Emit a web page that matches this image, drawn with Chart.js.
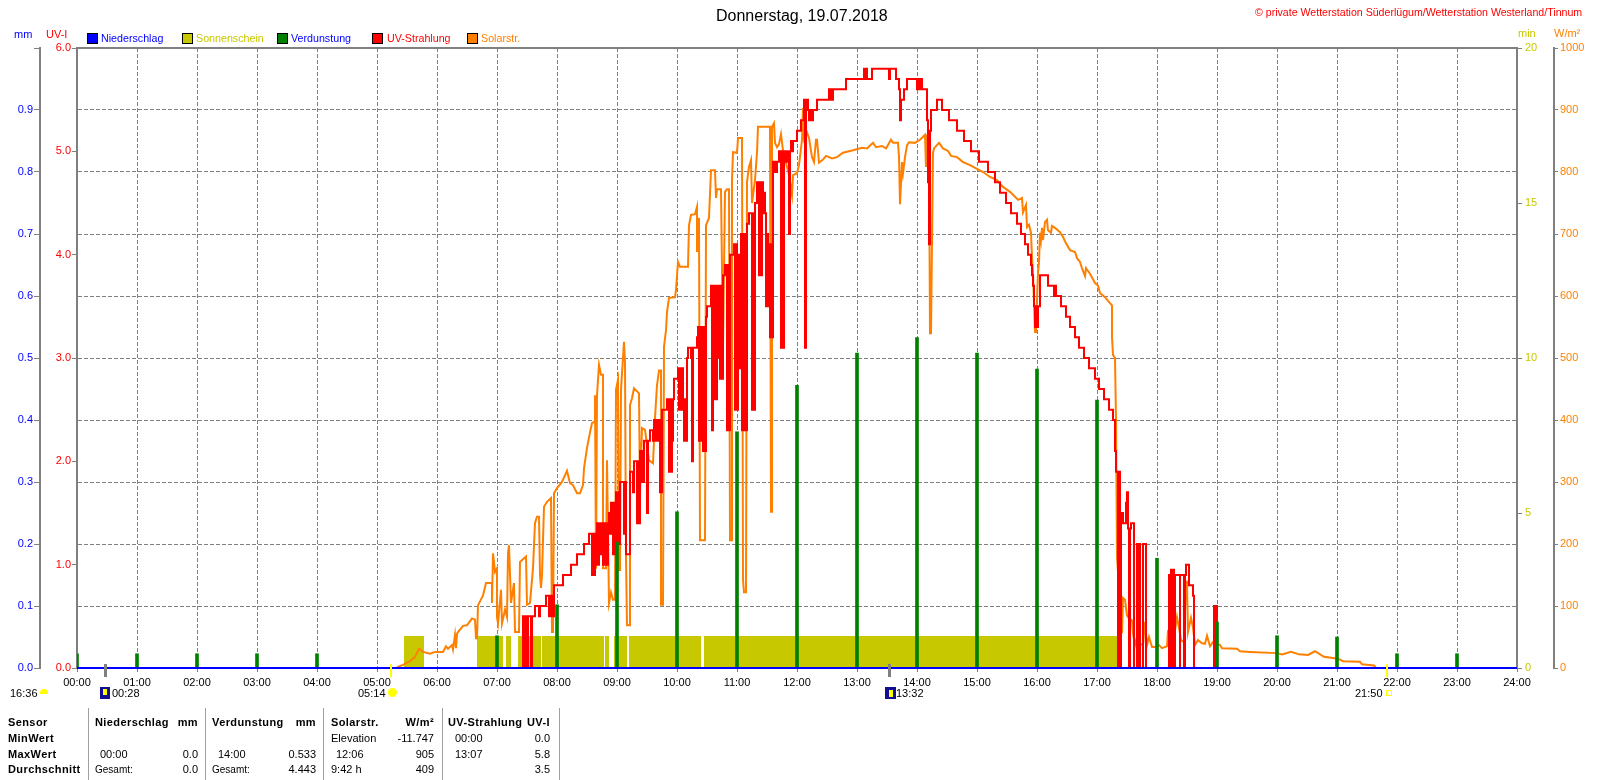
<!DOCTYPE html>
<html><head><meta charset="utf-8"><title>Wetterstation</title>
<script src="https://cdn.jsdelivr.net/npm/chart.js@4"></script>
<style>
html,body{margin:0;padding:0;background:#fff}
#w{position:relative;width:1600px;height:780px;overflow:hidden;font-family:"Liberation Sans",Arial,sans-serif;font-size:11px;color:#000}
canvas{position:absolute;left:0;top:0}
.t{position:absolute;white-space:nowrap;line-height:13px}
.b{position:absolute}
</style></head><body><div id="w"><canvas id="c" width="1600" height="780"></canvas></div>
<script>
const hourTicks=[0,60,120,180,240,300,360,420,480,540,600,660,720,780,840,900,960,1020,1080,1140,1200,1260,1320,1380,1440];
const rainT=[0,1440];
const rainMM=[0,0];
const verdT=[0,60,120,180,240,420,480,540,600,660,720,780,840,900,960,1020,1080,1140,1200,1260,1320,1380];
const verdMM=[0.023,0.023,0.023,0.023,0.023,0.052,0.102,0.203,0.252,0.381,0.456,0.508,0.533,0.508,0.482,0.432,0.177,0.074,0.052,0.05,0.023,0.023];
const sunStart=[327,400,429,441,465,528,537,552,627];
const sunEnd=[347,426,434,464,527,532,550,624,1040];
const sunMin=1.03;
const uvSeries=[[0,0],[446,.5],[447,0],[448,.5],[450,0],[451,.5],[454,0],[455,.5],[458,.6],[462,.5],[463,.6],[469,.7],[472,.5],[473,.7],[474,.5],[475,.7],[476,.5],[477,.8],[486,.9],[494,1.0],[500,1.1],[507,1.2],[512,1.3],[515,.9],[516,1.3],[517,.9],[518,1.3],[519,1.0],[520,1.4],[521,1.0],[522,1.4],[524,1.1],[525,1.4],[526,1.0],[527,1.4],[528,1.0],[529,1.4],[530,1.0],[531,1.4],[532,1.5],[533,1.3],[534,1.6],[535,1.3],[536,1.1],[537,1.6],[538,1.1],[539,1.7],[540,1.2],[541,1.7],[542,1.2],[543,1.8],[547,1.3],[548,1.8],[549,1.1],[553,1.9],[556,1.7],[557,2.0],[560,1.4],[561,2.0],[562,1.4],[563,2.1],[564,1.8],[565,2.1],[566,1.8],[567,2.2],[570,1.5],[571,2.2],[573,2.3],[576,2.2],[577,2.4],[578,2.2],[579,2.4],[580,2.2],[581,2.4],[583,1.7],[584,1.7],[585,2.5],[590,2.6],[592,1.9],[593,2.6],[594,1.9],[595,2.2],[596,2.6],[597,2.8],[601,2.9],[602,2.5],[603,2.9],[604,2.5],[605,2.9],[606,2.6],[607,2.2],[608,2.6],[609,2.2],[610,3.0],[611,3.1],[614,3.0],[615,2.0],[616,3.1],[620,3.2],[621,3.3],[622,2.2],[623,3.3],[624,2.2],[625,3.3],[626,2.1],[627,3.3],[628,2.1],[629,3.4],[630,3.5],[634,3.7],[635,2.3],[636,3.7],[637,2.6],[638,3.7],[639,2.6],[640,3.7],[641,3.0],[642,3.7],[643,2.8],[644,3.7],[645,2.8],[646,3.8],[648,3.9],[650,2.3],[651,3.9],[652,2.3],[653,4.0],[657,4.1],[658,2.5],[659,4.1],[660,2.5],[661,4.0],[662,2.9],[663,4.0],[664,4.2],[665,2.3],[666,4.2],[667,2.3],[668,4.2],[669,2.3],[670,4.3],[672,4.4],[675,2.5],[676,4.4],[677,2.5],[678,4.5],[680,4.7],[682,3.8],[683,4.7],[684,3.8],[685,4.7],[686,4.4],[687,4.6],[688,4.4],[689,3.5],[690,4.2],[691,3.5],[692,4.1],[693,3.2],[694,4.1],[695,3.2],[696,4.9],[697,4.8],[698,4.9],[699,4.8],[700,4.9],[702,5.0],[703,4.9],[704,3.1],[705,5.0],[706,3.1],[707,5.0],[708,4.9],[709,5.0],[710,4.9],[711,5.0],[712,4.2],[713,5.0],[714,5.1],[715,5.0],[716,5.1],[720,5.2],[724,5.3],[727,5.5],[728,3.1],[729,5.5],[731,5.4],[732,5.3],[734,5.4],[735,5.3],[736,5.4],[740,5.5],[752,5.6],[753,5.5],[754,5.6],[755,5.5],[756,5.6],[769,5.7],[787,5.8],[788,5.7],[789,5.8],[790,5.7],[795,5.8],[812,5.7],[813,5.8],[819,5.7],[822,5.6],[823,5.3],[824,5.5],[827,5.6],[830,5.7],[840,5.6],[841,5.7],[842,5.6],[843,5.7],[845,5.6],[850,5.3],[851,4.7],[852,4.1],[853,5.2],[854,5.4],[860,5.5],[865,5.4],[872,5.3],[880,5.2],[887,5.1],[894,5.0],[902,4.9],[911,4.8],[918,4.7],[923,4.6],[929,4.5],[934,4.4],[940,4.3],[944,4.2],[948,4.1],[951,4.0],[954,3.9],[955,3.8],[956,3.7],[957,3.5],[958,3.3],[959,3.5],[960,3.3],[961,3.5],[963,3.8],[971,3.7],[977,3.6],[978,3.7],[979,3.6],[984,3.5],[989,3.4],[993,3.3],[998,3.2],[1002,3.1],[1007,3.0],[1012,2.9],[1018,2.8],[1022,2.7],[1027,2.6],[1032,2.5],[1036,2.4],[1038,2.1],[1039,1.9],[1041,0],[1042,1.9],[1043,0],[1044,1.5],[1046,1.4],[1049,1.6],[1050,1.7],[1051,1.35],[1052,0],[1053,1.35],[1054,1.4],[1057,0],[1060,1.2],[1061,0],[1062,1.2],[1063,0],[1066,1.2],[1069,0],[1092,.9],[1093,0],[1094,.95],[1095,0],[1096,.95],[1097,0],[1098,.9],[1103,0],[1103,.9],[1107,0],[1108,.9],[1109,1.0],[1112,.8],[1116,.7],[1117,0],[1137,.6],[1138,0],[1139,.6],[1140,0],[1440,0]];
const solarSeries=[[0,0],[320,0],[321,2],[326,5],[333,11],[338,18],[342,31],[346,26],[353,23],[358,26],[366,26],[369,35],[371,31],[375,37],[376,30],[378,53],[379,32],[380,55],[381,58],[386,68],[390,69],[395,80],[398,78],[399,48],[400,48],[401,101],[406,117],[409,137],[415,137],[415,105],[416,185],[418,155],[420,161],[420,82],[421,72],[424,126],[425,72],[428,94],[430,82],[431,185],[432,198],[434,105],[437,137],[438,58],[442,58],[443,171],[449,180],[450,102],[453,105],[456,161],[458,234],[460,244],[462,244],[463,150],[464,129],[465,150],[467,260],[470,268],[474,274],[475,58],[476,58],[477,282],[480,290],[485,300],[490,318],[493,298],[496,295],[500,282],[503,282],[506,295],[507,322],[510,355],[513,380],[515,395],[518,398],[518,440],[519,160],[520,440],[522,489],[524,473],[526,473],[526,161],[529,161],[530,335],[532,105],[534,122],[536,110],[538,110],[539,449],[541,465],[542,158],[543,158],[544,449],[547,526],[548,492],[549,179],[550,69],[553,69],[553,424],[555,435],[557,451],[562,443],[563,279],[565,387],[568,384],[572,335],[576,330],[578,403],[580,456],[582,480],[584,480],[584,102],[586,102],[587,518],[589,545],[590,574],[592,597],[598,598],[599,610],[601,655],[603,647],[611,647],[612,714],[614,731],[618,732],[620,744],[620,671],[622,726],[623,206],[628,206],[629,714],[632,726],[634,803],[638,803],[639,758],[640,772],[644,772],[646,513],[648,768],[650,772],[652,772],[653,206],[655,206],[655,787],[656,832],[660,831],[661,855],[665,855],[666,142],[667,122],[669,122],[670,784],[672,808],[674,819],[675,750],[678,787],[680,831],[681,873],[693,873],[694,252],[695,252],[695,873],[697,879],[698,847],[700,840],[702,845],[704,861],[706,835],[709,815],[712,795],[715,763],[716,795],[720,798],[722,811],[725,852],[726,903],[727,856],[729,868],[732,855],[735,824],[737,816],[739,852],[740,852],[742,815],[746,820],[749,826],[755,822],[760,824],[766,831],[776,835],[785,839],[790,838],[796,847],[799,840],[805,842],[809,838],[814,852],[816,847],[821,847],[822,824],[823,748],[825,816],[826,798],[828,824],[830,843],[832,848],[838,847],[843,852],[848,860],[849,808],[850,856],[852,850],[853,540],[854,540],[856,830],[857,838],[862,847],[866,838],[871,834],[874,826],[880,824],[886,816],[893,811],[900,805],[906,800],[913,792],[920,787],[926,776],[933,768],[938,760],[941,755],[945,758],[946,735],[949,747],[950,711],[952,715],[954,702],[955,663],[956,637],[958,542],[959,542],[960,594],[961,637],[962,655],[963,702],[964,690],[965,710],[966,690],[968,719],[970,723],[971,706],[974,702],[975,713],[978,710],[983,703],[986,695],[989,685],[993,674],[998,671],[1000,661],[1003,655],[1005,645],[1008,632],[1009,645],[1013,636],[1018,621],[1021,617],[1023,605],[1028,598],[1031,592],[1035,585],[1035,534],[1036,505],[1038,500],[1039,400],[1040,179],[1045,56],[1046,113],[1048,110],[1050,85],[1052,80],[1055,77],[1056,56],[1058,37],[1060,50],[1063,39],[1066,37],[1068,74],[1070,37],[1072,50],[1075,34],[1080,34],[1082,37],[1085,32],[1090,35],[1091,61],[1092,35],[1098,61],[1100,82],[1102,65],[1104,45],[1107,42],[1109,139],[1110,139],[1111,58],[1114,81],[1116,65],[1118,37],[1121,45],[1125,40],[1128,39],[1130,52],[1133,35],[1136,42],[1143,37],[1145,32],[1160,31],[1163,27],[1173,26],[1200,24],[1205,22],[1214,26],[1222,22],[1231,21],[1238,27],[1247,18],[1261,15],[1266,11],[1283,10],[1285,6],[1297,4],[1299,0],[1440,0]];

const pts=(a,b)=>a.map((x,i)=>({x:x,y:b[i]}));
const pairPts=s=>s.map(p=>({x:p[0],y:p[1]}));
const sunPts=[];sunStart.forEach((s,i)=>{sunPts.push({x:s,y:0},{x:s,y:sunMin},{x:sunEnd[i],y:sunMin},{x:sunEnd[i],y:0});});
const GR='#808080';
const hhmm=v=>String(Math.floor(v/60)).padStart(2,'0')+':'+String(v%60).padStart(2,'0');
const tickFont={family:'"Liberation Sans",Arial,sans-serif',size:11};
const markerPlugin={id:'frame',
 beforeDatasetsDraw(ch){const a=ch.chartArea,c=ch.ctx;c.save();c.strokeStyle=GR;c.lineWidth=2;c.beginPath();c.moveTo(a.left,a.top);c.lineTo(a.right,a.top);c.stroke();c.restore();},
 afterDraw(ch){const c=ch.ctx,x=ch.scales.x,b=ch.chartArea.bottom;c.save();
  [[28,GR,3],[812,GR,3],[314,'#FFFF00',2],[1310,'#FFFF00',2]].forEach(m=>{c.fillStyle=m[1];c.fillRect(Math.round(x.getPixelForValue(m[0])-m[2]/2),b-4,m[2],13);});c.restore();}};
new Chart(document.getElementById('c'),{type:'line',plugins:[markerPlugin],
 data:{datasets:[
  {label:'Niederschlag',data:pts(rainT,rainMM),yAxisID:'mm',borderColor:'#0000FF',backgroundColor:'#0000FF',borderWidth:2,pointRadius:0,clip:false,order:1},
  {type:'bar',label:'Verdunstung',data:pts(verdT,verdMM),yAxisID:'mm',backgroundColor:'#008000',barThickness:3,order:2},
  {label:'UV-Strahlung',data:pairPts(uvSeries),yAxisID:'uv',borderColor:'#FF0000',backgroundColor:'#FF0000',borderWidth:2,pointRadius:0,stepped:true,borderJoinStyle:'miter',order:3},
  {label:'Solarstr.',data:pairPts(solarSeries),yAxisID:'w',borderColor:'#FF8000',backgroundColor:'#FF8000',borderWidth:2,pointRadius:0,tension:0,borderJoinStyle:'miter',order:4},
  {label:'Sonnenschein',data:sunPts,yAxisID:'min',borderWidth:0,borderColor:'#C8C800',backgroundColor:'#C8C800',pointRadius:0,fill:'origin',tension:0,order:5}
 ]},
 options:{responsive:false,animation:false,devicePixelRatio:1,events:[],
  layout:{padding:{top:48,left:0,right:0,bottom:0}},
  plugins:{legend:{display:false},title:{display:false},tooltip:{enabled:false}},
  scales:{
   x:{type:'linear',min:0,max:1440,offset:false,afterFit(s){s.height=112;},
      afterBuildTicks(s){s.ticks=hourTicks.map(v=>({value:v}));},
      grid:{offset:false,color:GR,lineWidth:1,tickLength:4,tickColor:GR,tickBorderDash:[]},
      border:{color:GR,width:2,dash:[4,2]},
      ticks:{color:'#000',font:tickFont,padding:4,maxRotation:0,autoSkip:false,callback:v=>hhmm(v)}},
   mm:{position:'left',weight:2,min:0,max:1,afterFit(s){s.width=40;},
      grid:{color:GR,lineWidth:1,tickLength:6,tickColor:GR,tickBorderDash:[]},
      border:{color:GR,width:2,dash:[4,2]},
      ticks:{stepSize:0.1,color:'#0000FF',font:tickFont,padding:1,callback:v=>v>0.95?'':v.toFixed(1)}},
   uv:{position:'left',weight:1,min:0,max:6,afterFit(s){s.width=37;},
      grid:{drawOnChartArea:false,tickLength:5,tickColor:GR},
      border:{color:GR,width:2},
      ticks:{stepSize:1,color:'#FF0000',font:tickFont,padding:1,callback:v=>v.toFixed(1)}},
   min:{position:'right',weight:1,min:0,max:20,afterFit(s){s.width=37;},
      grid:{drawOnChartArea:false,tickLength:5,tickColor:GR},
      border:{color:GR,width:2},
      ticks:{stepSize:5,color:'#C8C800',font:tickFont,padding:3,callback:v=>String(v)}},
   w:{position:'right',weight:2,min:0,max:1000,afterFit(s){s.width=46;},
      grid:{drawOnChartArea:false,tickLength:4,tickColor:GR},
      border:{color:GR,width:2},
      ticks:{stepSize:100,color:'#FF8000',font:tickFont,padding:2,callback:v=>String(v)}}
  }}});

const W=document.getElementById('w');
function T(s,x,y,o){o=o||{};const e=document.createElement('div');e.className='t';e.textContent=s;
 e.style.top=(y-6.5)+'px';
 if(o.r!==undefined){e.style.right=(1600-o.r)+'px';}else{e.style.left=x+'px';}
 if(o.c)e.style.color=o.c;if(o.s)e.style.fontSize=o.s+'px';if(o.b){e.style.fontWeight='bold';}
 if(o.ls)e.style.letterSpacing=o.ls+'px';W.appendChild(e);}
function B(x,y,w,h,css){const e=document.createElement('div');e.className='b';e.style.cssText='left:'+x+'px;top:'+y+'px;width:'+w+'px;height:'+h+'px;'+(css||'');W.appendChild(e);}
// title and header
T('Donnerstag, 19.07.2018',716,15,{s:16});
T('© private Wetterstation Süderlügum/Wetterstation Westerland/Tinnum',1255,12,{c:'#FF0000',s:10.6});
T('mm',14,34,{c:'#0000FF'});T('UV-I',46,34,{c:'#FF0000'});
T('min',1518,33,{c:'#C8C800'});T('W/m²',1554,33,{c:'#FF8000'});
// legend
[['Niederschlag','#0000FF','#0000FF',87,101],['Sonnenschein','#C8C800','#C8C800',182,196],['Verdunstung','#008000','#0000FF',277,291],['UV-Strahlung','#FF0000','#FF0000',372,387],['Solarstr.','#FF8000','#FF8000',467,481]].forEach(l=>{
 B(l[3],33,9,9,'background:'+l[1]+';border:1px solid #000;');T(l[0],l[4],38,{c:l[2],s:10.7});});
// rise and set row
T('16:36',10,693);B(40,689,8,5,'background:#FFFF00;border-radius:8px 8px 0 0;');
B(100,687,10,12,'background:#101090;');B(103,689,4,6,'background:#FFFF00;');T('00:28',112,693);
T('05:14',358,693);B(388,688,9,9,'background:#FFFF00;border-radius:50%;');
B(885,687,11,12,'background:#101090;');B(889,690,4,7,'background:#FFFF00;');T('13:32',896,693);
T('21:50',1355,693);B(1386,690,4,4,'border:1px solid #FFFF00;');
// statistics table
[88,205,323,442,559].forEach(x=>B(x,708,1,72,'background:#A0A0A0;'));
const hd={b:1,ls:0.4};
T('Sensor',8,722,hd);T('MinWert',8,738,hd);T('MaxWert',8,754,hd);T('Durchschnitt',8,769,hd);
T('Niederschlag',95,722,hd);T('mm',0,722,{...hd,r:198});
T('Verdunstung',212,722,hd);T('mm',0,722,{...hd,r:316});
T('Solarstr.',331,722,hd);T('W/m²',0,722,{...hd,r:434});
T('UV-Strahlung',448,722,hd);T('UV-I',0,722,{...hd,r:550});
T('Elevation',331,738);T('-11.747',0,738,{r:434});T('00:00',455,738);T('0.0',0,738,{r:550});
T('00:00',100,754);T('0.0',0,754,{r:198});T('14:00',218,754);T('0.533',0,754,{r:316});
T('12:06',336,754);T('905',0,754,{r:434});T('13:07',455,754);T('5.8',0,754,{r:550});
T('Gesamt:',95,769,{s:10});T('0.0',0,769,{r:198});T('Gesamt:',212,769,{s:10});T('4.443',0,769,{r:316});
T('9:42 h',331,769);T('409',0,769,{r:434});T('3.5',0,769,{r:550});
</script></body></html>
